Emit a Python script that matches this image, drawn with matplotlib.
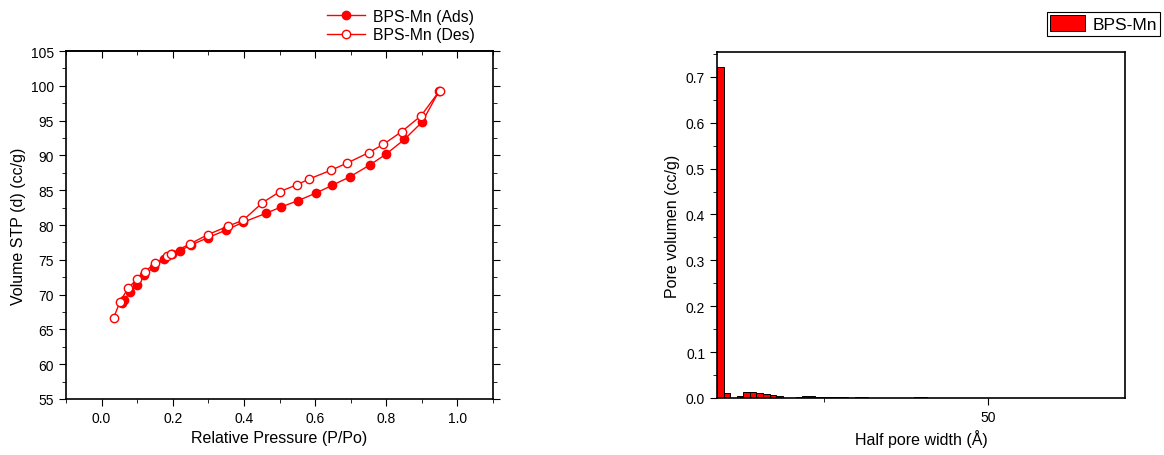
import numpy as np
import matplotlib
matplotlib.use('Agg')
import matplotlib.pyplot as plt
from matplotlib.ticker import MultipleLocator

plt.rcParams['font.family'] = ['Liberation Sans', 'DejaVu Sans']

# isotherm (left)
p_ads = [0.057, 0.064, 0.080, 0.099, 0.118, 0.146, 0.176, 0.197, 0.220, 0.250, 0.300, 0.351,
         0.398, 0.463, 0.505, 0.552, 0.603, 0.648, 0.697, 0.753, 0.800, 0.851, 0.901, 0.949]
v_ads = [68.8, 69.2, 70.4, 71.4, 72.8, 73.9, 75.1, 75.8, 76.3, 77.1, 78.2, 79.3,
         80.4, 81.7, 82.6, 83.5, 84.6, 85.7, 86.9, 88.6, 90.2, 92.3, 94.8, 99.3]
p_des = [0.034, 0.052, 0.074, 0.099, 0.121, 0.151, 0.183, 0.195, 0.249, 0.298, 0.354, 0.398,
         0.452, 0.501, 0.550, 0.583, 0.646, 0.690, 0.751, 0.792, 0.843, 0.898, 0.950]
v_des = [66.7, 69.0, 70.9, 72.2, 73.3, 74.5, 75.5, 75.9, 77.3, 78.6, 79.8, 80.7,
         83.2, 84.8, 85.8, 86.6, 87.9, 88.9, 90.4, 91.6, 93.4, 95.7, 99.3]

# pore size distribution (right)
half_width = np.arange(9.2, 71.0, 1.0)
pore_vol = [0.722, 0.010, 0.0, 0.004, 0.012, 0.012, 0.010, 0.009, 0.007, 0.005,
            0.001, 0.001, 0.003, 0.004, 0.004, 0.003, 0.002, 0.002, 0.002, 0.002,
            0.001, 0.0015, 0.0012, 0.0008, 0.0008, 0.0006, 0.0004, 0.0003, 0.0008, 0.001,
            0.0012, 0.0012, 0.001, 0.0008, 0.0006, 0.0004, 0.0006, 0.0008, 0.0008, 0.0006,
            0.0005, 0.0004, 0.0003, 0.0004, 0.0006, 0.0008, 0.0007, 0.0005, 0.001, 0.001,
            0.001, 0.001, 0.0008, 0.0003, 0.0003, 0.0003, 0.0003, 0.0003, 0.0003, 0.0003,
            0.0003, 0.0003]

fig = plt.figure(figsize=(11.64, 4.56), dpi=100)

ax1 = fig.add_axes([66/1164, 1 - 400/456, 427/1164, 348/456])
ax1.plot(p_ads, v_ads, color='red', marker='o', ms=6, lw=1, mfc='red', mec='red',
         label='BPS-Mn (Ads)')
ax1.plot(p_des, v_des, color='red', marker='o', ms=6, lw=1, mfc='white', mec='red',
         label='BPS-Mn (Des)')
ax1.set_xlim(-0.1, 1.1)
ax1.set_ylim(55, 105)
ax1.set_xticks([0.0, 0.2, 0.4, 0.6, 0.8, 1.0])
ax1.set_xticklabels(['0.0', '0.2', '0.4', '0.6', '0.8', '1.0'])
ax1.xaxis.set_minor_locator(MultipleLocator(0.1))
ax1.yaxis.set_major_locator(MultipleLocator(5))
ax1.yaxis.set_minor_locator(MultipleLocator(2.5))
ax1.tick_params(which='both', direction='out', right=True, labelsize=10)
ax1.tick_params(which='major', length=5)
ax1.tick_params(which='minor', length=3)

# top axis with inward ticks, no labels
top = ax1.secondary_xaxis('top')
top.set_xticks([0.0, 0.2, 0.4, 0.6, 0.8, 1.0])
top.xaxis.set_minor_locator(MultipleLocator(0.1))
top.tick_params(which='both', direction='in', labeltop=False)
top.tick_params(which='major', length=5)
top.tick_params(which='minor', length=3)
top.spines['top'].set_linewidth(1.2)

ax1.set_xlabel('Relative Pressure (P/Po)', fontsize=11.5)
ax1.set_ylabel('Volume STP (d) (cc/g)', fontsize=11.5)
ax1.legend(loc='lower right', bbox_to_anchor=(0.96, 1.02), frameon=False, fontsize=11.3,
           handlelength=2.4, handletextpad=0.5, borderpad=0.1, labelspacing=0.25,
           borderaxespad=0)

ax2 = fig.add_axes([717/1164, 1 - 399/456, 408/1164, 346/456])
ax2.bar(half_width, pore_vol, width=1.0, color='red', edgecolor='black', lw=0.7,
        label='BPS-Mn')
ax2.set_xlim(8.69, 70.9)
ax2.set_ylim(0, 0.754)
ax2.xaxis.set_major_locator(MultipleLocator(50))
ax2.xaxis.set_minor_locator(MultipleLocator(25))
ax2.yaxis.set_major_locator(MultipleLocator(0.1))
ax2.yaxis.set_minor_locator(MultipleLocator(0.05))
ax2.tick_params(which='both', direction='out', labelsize=10)
ax2.tick_params(which='major', length=5)
ax2.tick_params(which='minor', length=3)
ax2.set_xlabel('Half pore width (Å)', fontsize=11.5)
ax2.set_ylabel('Pore volumen (cc/g)', fontsize=11.5)
leg = ax2.legend(loc='upper left', bbox_to_anchor=(1047/1164, 1 - 13/456),
                 bbox_transform=fig.transFigure, fontsize=12.5, fancybox=False,
                 edgecolor='black', framealpha=1, handlelength=2.0, handleheight=1.0,
                 handletextpad=0.4, borderpad=0.2, borderaxespad=0)
leg.get_frame().set_linewidth(0.8)

for ax in (ax1, ax2):
    for s in ax.spines.values():
        s.set_linewidth(1.2)

plt.savefig('out.png', dpi=100)
